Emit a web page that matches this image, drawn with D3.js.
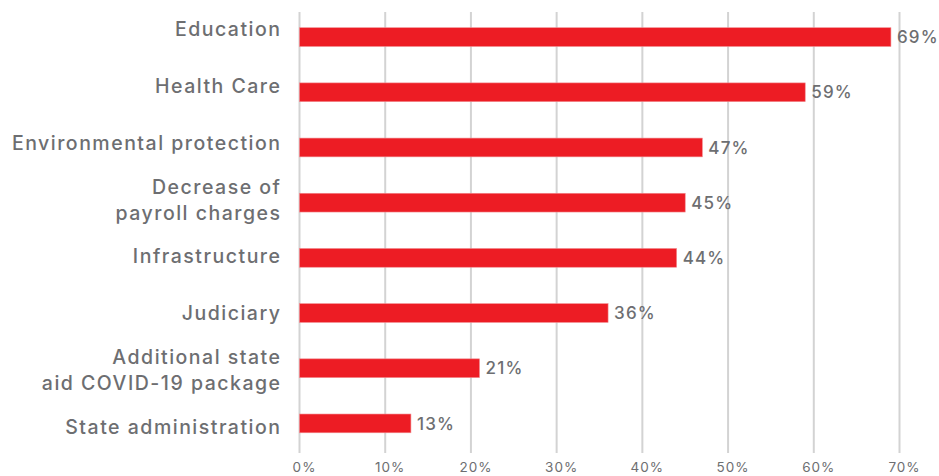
<!DOCTYPE html>
<html>
<head>
<meta charset="utf-8">
<script src="https://cdn.jsdelivr.net/npm/d3@7"></script>
<style>
  html, body { margin: 0; padding: 0; background: #fff; }
  svg { display: block; font-family: "Inter", "Open Sans", sans-serif; }
</style>
</head>
<body>
<svg id="chart" width="939" height="476"></svg>
<script>
const categories = [
  ["Education"],
  ["Health Care"],
  ["Environmental protection"],
  ["Decrease of", "payroll charges"],
  ["Infrastructure"],
  ["Judiciary"],
  ["Additional state", "aid COVID-19 package"],
  ["State administration"]
];
const values = [69, 59, 47, 45, 44, 36, 21, 13];
const tickValues = [0, 10, 20, 30, 40, 50, 60, 70];
const tickLabels = ["0%", "10%", "20%", "30%", "40%", "50%", "60%", "70%"];

const svg = d3.select("#chart");
const textColor = "#6d6e71";
const barColor = "#ed1c24";
const gridColor = "#d3d3d3";

const x = d3.scaleLinear().domain([0, 70]).range([299.5, 899.5]);
const y = d3.scaleBand().domain(d3.range(categories.length)).range([9.5, 451]).paddingInner(0.66).paddingOuter(0.33);
const yLabel = d3.scalePoint().domain(d3.range(categories.length)).range([29, 427]);

// gridlines
svg.append("g").selectAll("line").data(tickValues).join("line")
  .attr("x1", d => x(d)).attr("x2", d => x(d))
  .attr("y1", 12).attr("y2", 453)
  .attr("stroke", gridColor).attr("stroke-width", 2);

// tick labels
svg.append("g").selectAll("text").data(tickValues).join("text")
  .attr("x", d => x(d) + 5).attr("y", 472)
  .attr("text-anchor", "middle")
  .attr("font-size", 13.5).attr("font-weight", 400)
  .attr("letter-spacing", 1)
  .attr("fill", textColor)
  .text((d, i) => tickLabels[i]);

// bars
svg.append("g").selectAll("rect").data(values).join("rect")
  .attr("x", x(0)).attr("y", (d, i) => y(i))
  .attr("width", d => x(d) - x(0))
  .attr("height", y.bandwidth())
  .attr("fill", barColor)
  .attr("stroke", "#f28b8f").attr("stroke-width", 0.6);

// value labels
svg.append("g").selectAll("text").data(values).join("text")
  .attr("x", d => x(d) + 6).attr("y", (d, i) => y(i) + y.bandwidth() / 2)
  .attr("dy", "0.36em")
  .attr("font-size", 17).attr("font-weight", 500)
  .attr("letter-spacing", 1.2)
  .attr("fill", textColor)
  .text(d => d + "%");

// category labels
const lh = 26;
const cg = svg.append("g").selectAll("text").data(categories).join("text")
  .attr("text-anchor", "end")
  .attr("font-size", 19.5).attr("font-weight", 500)
  .attr("letter-spacing", 1.5)
  .attr("fill", textColor)
  .attr("transform", (d, i) => `translate(281.5, ${yLabel(i) - (d.length - 1) * lh / 2})`);
cg.selectAll("tspan").data(d => d).join("tspan")
  .attr("x", 0).attr("y", (d, j) => j * lh)
  .attr("dy", "0.36em")
  .text(d => d);
</script>
</body>
</html>
